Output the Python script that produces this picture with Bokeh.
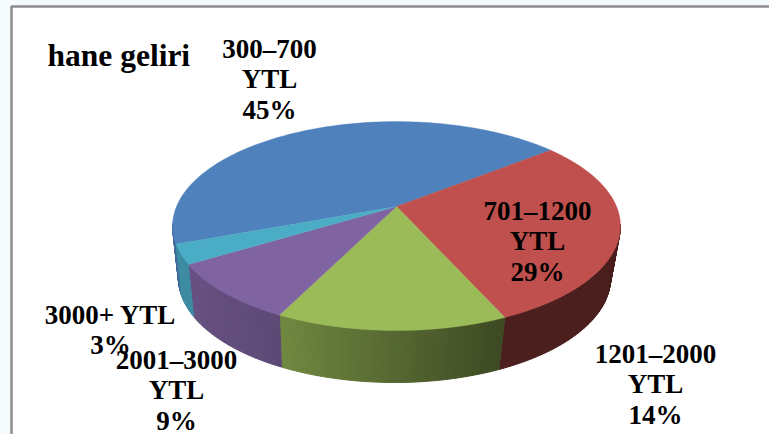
import numpy as np
from bokeh.plotting import figure
from bokeh.embed import file_html
from bokeh.resources import INLINE
from bokeh.core.properties import value

categories = ["300–700 YTL", "701–1200 YTL", "1201–2000 YTL", "2001–3000 YTL", "3000+ YTL"]
shares = [45, 29, 14, 9, 3]
colors = ["#4f81bd", "#c0504d", "#9bbb59", "#8064a2", "#4bacc6"]
title = "hane geliri"
label_lines = [["300–700", "YTL", "45%"], ["701–1200", "YTL", "29%"], ["1201–2000", "YTL", "14%"],
               ["2001–3000", "YTL", "9%"], ["3000+ YTL", "3%"]]
label_pos = [(269, 48), (537, 210), (655, 353), (176, 359), (110, 314)]

W, H = 769, 434
p = figure(width=W, height=H, x_range=(0, W), y_range=(H, 0), output_backend="svg",
           toolbar_location=None, min_border=0, outline_line_color=None, background_fill_color="#f5fafd",
           border_fill_color="#f5fafd")
p.axis.visible = False
p.grid.visible = False

# frame
p.quad(left=[11], right=[W + 5], top=[6], bottom=[H + 5], fill_color="white", line_color="#8c8c8c", line_width=2.5)

CX, CY, A, B, K, DEPTH, BOTTOM_DX, BOTTOM_SCALE = 396, 206, 220, 100.8, 0.187, 52, -2, 0.965
START = -110.5

def rim(theta, cx=CX, cy=CY, sx=1.0):
    t = np.radians(theta)
    u, v = np.sin(t), np.cos(t)
    d = 1 + K * v
    return cx + sx * A * u / d, cy - B * v / d

def shade(hex_color, f):
    rgb = [int(hex_color[i:i + 2], 16) for i in (1, 3, 5)]
    return "#%02x%02x%02x" % tuple(int(c * f) for c in rgb)

edges = START + np.cumsum([0] + shares) * 3.6

# side wall: narrow strips, shaded from left to right
xs, ys, cs = [], [], []
for i, c in enumerate(colors):
    n = max(2, int((edges[i + 1] - edges[i]) / 1.0))
    ths = np.linspace(edges[i], edges[i + 1], n + 1)
    for a, b in zip(ths[:-1], ths[1:]):
        mid = (a + b) / 2
        if np.cos(np.radians(mid)) > -K + 0.02:
            continue
        x1, y1 = rim(a); x2, y2 = rim(b)
        x3, y3 = rim(b, CX + BOTTOM_DX, CY + DEPTH, BOTTOM_SCALE)
        x4, y4 = rim(a, CX + BOTTOM_DX, CY + DEPTH, BOTTOM_SCALE)
        xm = (x1 + x2) / 2
        f = float(np.interp(xm, [175, 285, 500, 620], [0.82, 0.72, 0.40, 0.38]))
        xs.append([x1, x2, x3, x4]); ys.append([y1, y2, y3, y4]); cs.append(shade(c, f))
p.patches(xs, ys, fill_color=cs, line_color=cs, line_width=1.0)

# top face
for i, c in enumerate(colors):
    ths = np.linspace(edges[i], edges[i + 1], 120)
    rx, ry = rim(ths)
    p.patch(np.r_[CX, rx], np.r_[CY, ry], fill_color=c, line_color=c, line_width=0.4)

LH = 30.5
tx, ty, tt = [], [], []
for lines, (x, y) in zip(label_lines, label_pos):
    for j, s in enumerate(lines):
        tx.append(x); ty.append(y + j * LH); tt.append(s)
p.text(tx, ty, text=tt, text_font=value("Liberation Serif"), text_font_style="bold", text_font_size="27px",
       text_align="center", text_baseline="middle", text_color="black")
p.text([47], [55], text=[title], text_font=value("Liberation Serif"), text_font_style="bold",
       text_font_size="31.5px", text_align="left", text_baseline="middle", text_color="black")

html = file_html(p, INLINE).replace("<body>", '<body style="margin:0;overflow:hidden;background:#f5fafd">')
open("out.html", "w").write(html)
